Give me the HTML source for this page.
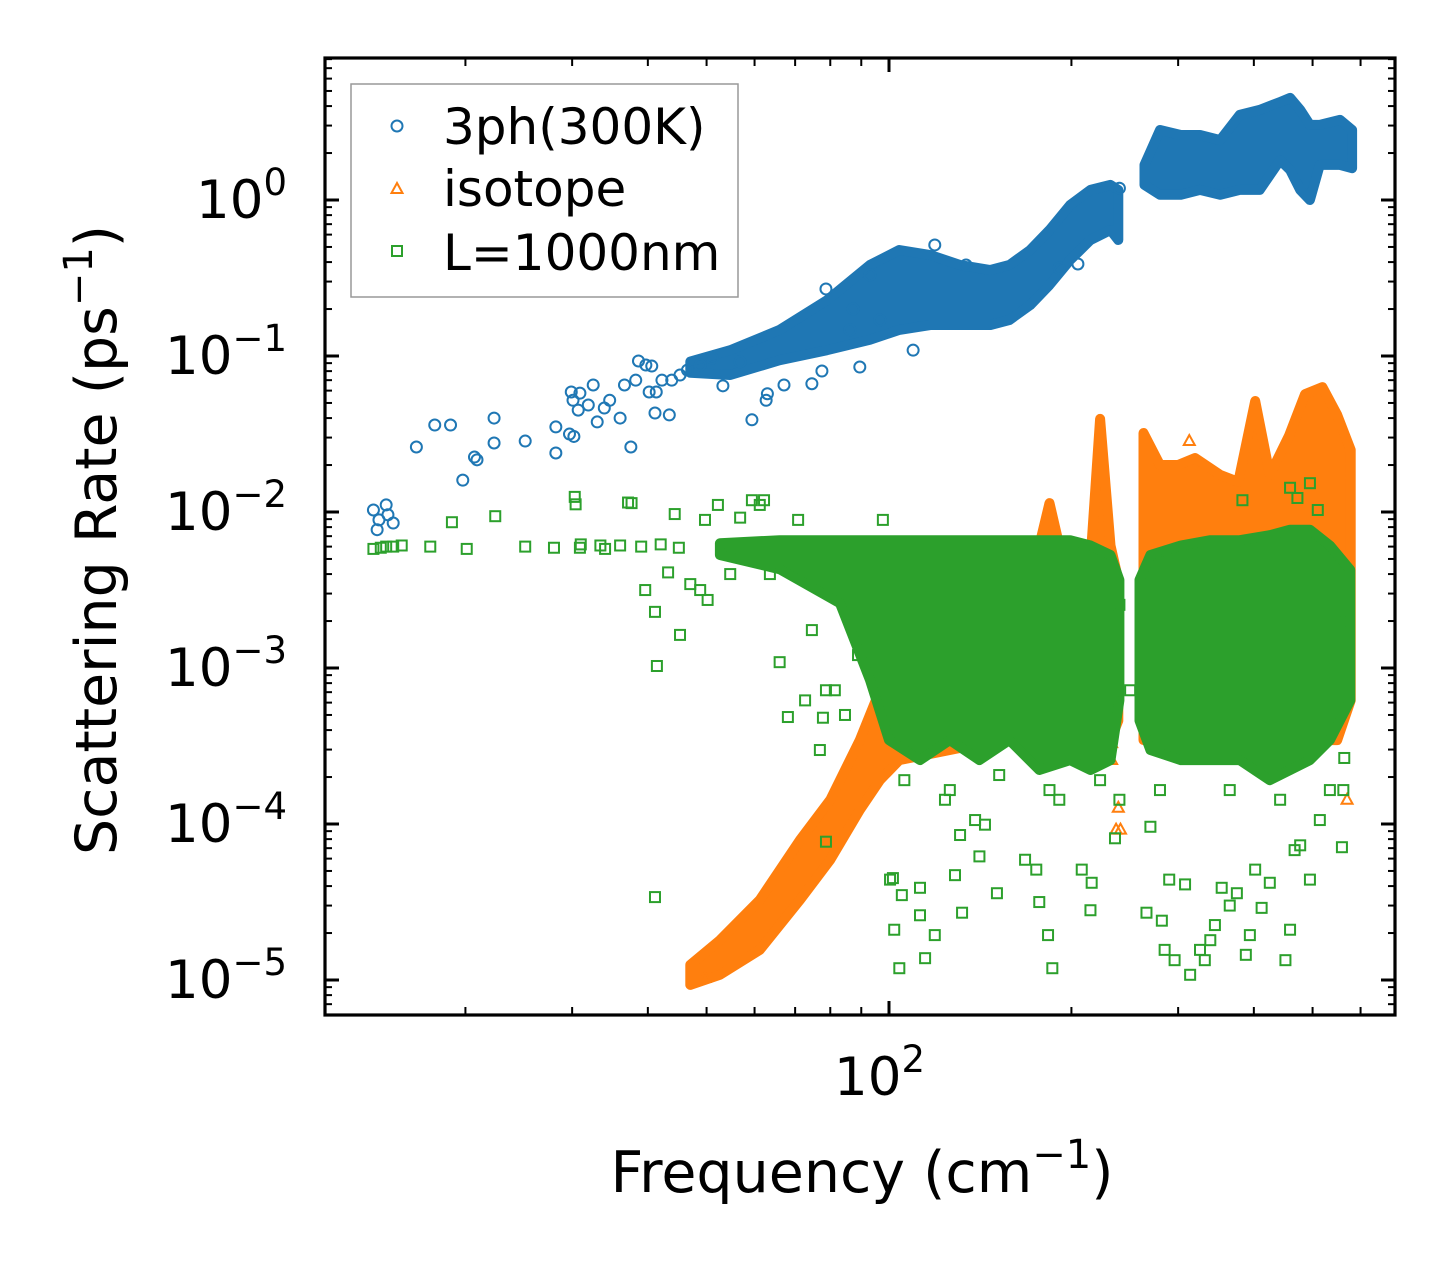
<!DOCTYPE html>
<html><head><meta charset="utf-8"><style>
html,body{margin:0;padding:0;background:#fff;}
svg{display:block;font-family:"DejaVu Sans","Liberation Sans",sans-serif;}
</style></head><body>
<svg id="chart" width="1455" height="1265" viewBox="0 0 1455 1265" xmlns="http://www.w3.org/2000/svg">
<rect width="1455" height="1265" fill="#fff"/>
<g id="plot"></g>
<g id="axes"></g>
</svg>
<script>
// ---- data ----
const blueBandA_freq=[47,54.7,66,79,93,104,117,131,147,158,171,184,199,215,232,239];
const blueBandA_hi=[0.092,0.109,0.147,0.228,0.383,0.478,0.444,0.383,0.356,0.383,0.478,0.642,0.929,1.16,1.25,1.16];
const blueBandA_lo=[0.078,0.0755,0.094,0.109,0.127,0.147,0.158,0.158,0.158,0.170,0.212,0.285,0.412,0.554,0.642,0.554];
const blueBandB_freq=[264,280,303,326,352,379,409,442,459,477,495,514,555,581];
const blueBandB_hi=[1.68,2.81,2.61,2.61,2.42,3.51,3.78,4.25,4.51,3.78,3.03,3.03,3.26,2.81];
const blueBandB_lo=[1.25,1.08,1.08,1.16,1.08,1.16,1.16,1.80,1.56,1.16,1.0,1.68,1.68,1.60];
const blue_freq=[14.1,14.4,14.8,14.9,15.2,14.3,16.6,17.8,18.9,19.8,20.7,20.9,22.3,22.3,25.1,28.2,28.2,29.7,29.9,30.1,30.2,30.7,30.9,31.9,32.5,33,33.9,34.6,36,36.6,37.5,38.2,38.6,39.7,40.6,40.2,41.3,41.1,42.2,43.4,43.8,45.2,46.5,48.8,51.1,53.2,56.8,59.4,62.7,63,67.1,74.6,77.5,78.7,87.3,89.5,86.2,93,96.6,109.6,119,134,191,205,240];
const blue_rate=[0.0103,0.0089,0.0111,0.0096,0.0085,0.0077,0.0261,0.0361,0.0361,0.016,0.0225,0.0216,0.040,0.0277,0.0285,0.0351,0.0239,0.0316,0.0588,0.052,0.0305,0.045,0.0578,0.0485,0.0652,0.0378,0.0464,0.052,0.040,0.0652,0.0261,0.070,0.0929,0.0875,0.0862,0.0588,0.0588,0.0431,0.070,0.0419,0.070,0.0755,0.0812,0.0875,0.097,0.0644,0.0917,0.039,0.052,0.0573,0.0652,0.0664,0.0801,0.269,0.20,0.085,0.147,0.331,0.170,0.109,0.515,0.383,0.367,0.389,1.19];

const orangeBandA_freq=[47,52.6,61.2,71.3,80,89.5,96.6,104,152,177,184,191,215,223,232,239];
const orangeBandA_hi=[1.25e-5,1.80e-5,3.26e-5,7.9e-5,1.43e-4,3.45e-4,7.2e-4,1.51e-3,4.9e-3,6.1e-3,0.0114,6.1e-3,4.9e-3,0.0395,6.1e-3,3.67e-3];
const orangeBandA_lo=[9.3e-6,1.08e-5,1.56e-5,3.26e-5,5.9e-5,1.23e-4,1.91e-4,2.57e-4,3.45e-4,6.2e-4,6.2e-4,4.6e-4,4.6e-4,4.6e-4,3.45e-4,4.6e-4];
const orangeBandB_freq=[263,280,300,320,352,377,402,425,457,486,519,549,578];
const orangeBandB_hi=[0.0321,0.020,0.020,0.0222,0.0173,0.0156,0.0515,0.0173,0.0307,0.057,0.0632,0.0419,0.0250];
const orangeBandB_lo=[3.45e-4,3.45e-4,3.45e-4,3.45e-4,3.45e-4,3.45e-4,3.45e-4,3.45e-4,3.45e-4,3.45e-4,3.45e-4,3.45e-4,6.2e-4];
const orange_freq=[313,239,237,241,570,233,233,49.7];
const orange_rate=[0.0285,1.27e-4,9.2e-5,9.2e-5,1.43e-4,2.57e-4,3.3e-4,1.03e-5];

const greenBandA_freq=[52.6,66,83,93,100,112.5,126,141,158,177,199,215,232,240];
const greenBandA_hi=[6.3e-3,6.6e-3,6.6e-3,6.6e-3,6.6e-3,6.6e-3,6.6e-3,6.6e-3,6.6e-3,6.6e-3,6.6e-3,6.1e-3,5.3e-3,3.67e-3];
const greenBandA_lo=[5.3e-3,4.3e-3,2.6e-3,8.4e-4,3.45e-4,2.57e-4,3.45e-4,2.57e-4,3.45e-4,2.22e-4,2.57e-4,2.22e-4,2.57e-4,6.2e-4];
const greenBandB_freq=[259,270,303,339,379,425,459,495,534,577];
const greenBandB_hi=[3.67e-3,5.3e-3,6.1e-3,6.6e-3,6.6e-3,7.1e-3,7.7e-3,7.7e-3,6.1e-3,4.25e-3];
const greenBandB_lo=[4.6e-4,2.98e-4,2.57e-4,2.57e-4,2.57e-4,1.91e-4,2.22e-4,2.57e-4,3.45e-4,6.2e-4];
const green_freq=[14.1,14.5,14.8,15.2,15.7,17.5,19.0,20.1,22.4,25.1,30.3,30.4,30.9,33.4,37.1,37.6,39.6,41.1,41.4,43.2,44.3,45.2,47,48.8,49.7,50.2,52.2,54.7,56.8,59.4,61.2,62.2,63.6,66,68.1,70.8,72.7,74.6,76.9,77.8,78.7,81.4,84.6,88.9,78.7,41.1,97.7,100.4,102,104,101.5,105,112.5,112.5,114.7,119,123.7,128.5,131,132,138.7,141,144,150.7,167.7,175,177,183,186,191,208,216,215,236,240,270,266,282,285,296,290,308,314,326,332,339,345,354,365,375,388,394,402,412,425,451,459,467,477,495,514,559,564,562,459,472,495,510,383,288,305,240,236,250,564,106,126,152,184,223,280,365,442,534,28,31,34,36,39,42,45];
const green_rate=[5.8e-3,5.9e-3,6.0e-3,6.0e-3,6.1e-3,6.0e-3,8.6e-3,5.8e-3,9.4e-3,6.0e-3,0.0125,0.0112,5.9e-3,6.1e-3,0.0115,0.0114,3.16e-3,2.29e-3,1.03e-3,4.1e-3,9.7e-3,1.63e-3,3.45e-3,3.16e-3,8.9e-3,2.73e-3,0.0111,4.0e-3,9.2e-3,0.0119,0.0111,0.0119,4.0e-3,1.09e-3,4.85e-4,8.9e-3,6.2e-4,1.75e-3,2.98e-4,4.8e-4,7.2e-4,7.2e-4,5.0e-4,1.21e-3,7.7e-5,3.4e-5,8.9e-3,4.4e-5,2.1e-5,1.19e-5,4.5e-5,3.5e-5,3.9e-5,2.6e-5,1.38e-5,1.94e-5,1.43e-4,4.7e-5,8.5e-5,2.7e-5,1.06e-4,6.2e-5,9.9e-5,3.6e-5,5.9e-5,5.1e-5,3.16e-5,1.94e-5,1.19e-5,1.43e-4,5.1e-5,4.2e-5,2.8e-5,8.1e-5,1.43e-4,9.6e-5,2.7e-5,2.4e-5,1.56e-5,1.34e-5,4.4e-5,4.1e-5,1.08e-5,1.56e-5,1.34e-5,1.8e-5,2.25e-5,3.9e-5,3.0e-5,3.6e-5,1.45e-5,1.94e-5,5.1e-5,2.9e-5,4.2e-5,1.34e-5,2.1e-5,6.8e-5,7.3e-5,4.4e-5,1.06e-4,7.1e-5,2.65e-4,1.65e-4,0.0143,0.0123,0.0153,0.0103,0.0119,4.9e-3,5.7e-3,2.54e-3,6.2e-4,7.2e-4,2.03e-3,1.91e-4,1.65e-4,2.06e-4,1.65e-4,1.91e-4,1.65e-4,1.65e-4,1.43e-4,1.65e-4,5.9e-3,6.2e-3,5.8e-3,6.1e-3,6.0e-3,6.2e-3,5.9e-3];

const yTickExps=[0,-1,-2,-3,-4,-5];
const xMajorTicks=[100];
const xMinorTicks=[20,30,40,50,60,70,80,90,200,300,400,500,600];

// ---- axes geometry ----
const L=325,R=1395,T=58,B=1015;
const X100=889,XDEC=606,Y0=200,YDEC=156;
const xs=f=>X100+(Math.log10(f)-2)*XDEC;
const ys=r=>Y0-Math.log10(r)*YDEC;
const NS="http://www.w3.org/2000/svg";
const plot=document.getElementById('plot');
const axes=document.getElementById('axes');
function mk(tag,attrs,parent){const e=document.createElementNS(NS,tag);for(const k in attrs)e.setAttribute(k,attrs[k]);parent.appendChild(e);return e;}

const BLUE='#1f77b4',ORANGE='#ff7f0e',GREEN='#2ca02c';
function band(fr,hi,lo,color,name){
  let pts=fr.map((f,i)=>xs(f).toFixed(1)+','+ys(hi[i]).toFixed(1));
  for(let i=fr.length-1;i>=0;i--)pts.push(xs(fr[i]).toFixed(1)+','+ys(lo[i]).toFixed(1));
  const p=mk('polygon',{points:pts.join(' '),fill:color,stroke:color,'stroke-width':10,'stroke-linejoin':'round'},plot);
  
  
}
function circles(fr,rt,color){
  fr.forEach((f,i)=>{
    const c=mk('circle',{cx:xs(f),cy:ys(rt[i]),r:5.5,fill:'none',stroke:color,'stroke-width':2},plot);
    
    
  });
}
function tris(fr,rt,color){
  fr.forEach((f,i)=>{
    const x=xs(f),y=ys(rt[i]);
    const t=mk('polygon',{points:`${x},${y-6} ${x-5.5},${y+4} ${x+5.5},${y+4}`,fill:'none',stroke:color,'stroke-width':2},plot);
    
    
  });
}
function squares(fr,rt,color){
  fr.forEach((f,i)=>{
    const s=mk('rect',{x:xs(f)-5,y:ys(rt[i])-5,width:10,height:10,fill:'none',stroke:color,'stroke-width':2},plot);
    
    
  });
}
band(blueBandA_freq,blueBandA_hi,blueBandA_lo,BLUE,'3ph-band-low');
band(blueBandB_freq,blueBandB_hi,blueBandB_lo,BLUE,'3ph-band-high');
circles(blue_freq,blue_rate,BLUE);
band(orangeBandA_freq,orangeBandA_hi,orangeBandA_lo,ORANGE,'isotope-band-low');
band(orangeBandB_freq,orangeBandB_hi,orangeBandB_lo,ORANGE,'isotope-band-high');
tris(orange_freq,orange_rate,ORANGE);
band(greenBandA_freq,greenBandA_hi,greenBandA_lo,GREEN,'boundary-band-low');
band(greenBandB_freq,greenBandB_hi,greenBandB_lo,GREEN,'boundary-band-high');
squares(green_freq,green_rate,GREEN);

// ---- ticks ----
function line(x1,y1,x2,y2,w,name){const l=mk('line',{x1,y1,x2,y2,stroke:'#000','stroke-width':w},axes);}
for(let e=-6;e<=1;e++){
  for(let m=1;m<=9;m++){
    const y=ys(m*Math.pow(10,e));
    if(y<T+1||y>B-1)continue;
    const len=m===1?14:7;
    line(L,y,L+len,y,m===1?3:2,'y-tick');
    line(R,y,R-len,y,m===1?3:2,'y-tick-right');
  }
}
xMajorTicks.forEach(v=>{const x=xs(v);line(x,B,x,B-14,3,'x-tick');line(x,T,x,T+14,3,'x-tick-top');});
xMinorTicks.forEach(v=>{const x=xs(v);line(x,B,x,B-8,2,'x-minor-tick');line(x,T,x,T+8,2,'x-minor-tick-top');});
const frame=mk('rect',{x:L,y:T,width:R-L,height:B-T,fill:'none',stroke:'#000','stroke-width':3.2},axes);



yTickExps.forEach(e=>{
  const t=mk('text',{x:287,y:ys(Math.pow(10,e))+18,'font-size':53,'text-anchor':'end',fill:'#000'},axes);
  
  
  t.textContent='10';
  const s=mk('tspan',{dy:-23,'font-size':37},t);
  s.textContent=(e<0?'\u2212':'')+Math.abs(e);
});
xMajorTicks.forEach(v=>{
  const t=mk('text',{x:xs(v)-55,y:1095,'font-size':53,fill:'#000'},axes);
  
  
  t.textContent='10';
  const s=mk('tspan',{dy:-23,'font-size':37},t);
  s.textContent=String(Math.log10(v));
});
</script>
<svg style="position:absolute;left:0;top:0" width="1455" height="1265" xmlns="http://www.w3.org/2000/svg">
<g font-family="DejaVu Sans, Liberation Sans, sans-serif" fill="#000">
<text x="862" y="1192" font-size="57" text-anchor="middle">Frequency (cm<tspan dy="-24" font-size="40">−1</tspan><tspan dy="24">)</tspan></text>
<text transform="translate(116,540) rotate(-90)" font-size="57" text-anchor="middle">Scattering Rate (ps<tspan dy="-24" font-size="40">−1</tspan><tspan dy="24">)</tspan></text>
<g>
<rect x="351" y="84" width="387" height="213" fill="#fff" fill-opacity="0.8" stroke="#999" stroke-width="1.5"/>
<circle cx="397" cy="126" r="5.5" fill="none" stroke="#1f77b4" stroke-width="2"/>
<text x="443" y="144" font-size="50">3ph(300K)</text>
<polygon points="397,183 391.5,193 402.5,193" fill="none" stroke="#ff7f0e" stroke-width="2"/>
<text x="443" y="206" font-size="50">isotope</text>
<rect x="392" y="246" width="10" height="10" fill="none" stroke="#2ca02c" stroke-width="2"/>
<text x="443" y="270" font-size="50">L=1000nm</text>
</g>
</g>
</svg>
</body></html>
